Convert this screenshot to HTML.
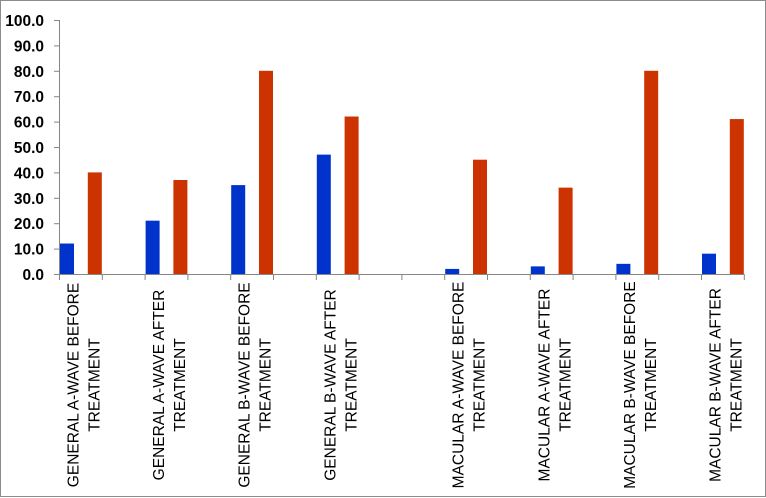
<!DOCTYPE html>
<html><head><style>body{margin:0;background:#fff}svg{display:block}</style></head><body>
<svg width="766" height="498" xmlns="http://www.w3.org/2000/svg" font-family="Liberation Sans, Arial, sans-serif">
<rect x="0.5" y="0.5" width="765" height="496" fill="#fff" stroke="#8c8c8c"/>
<g font-size="15.5" font-weight="bold" text-anchor="end" fill="#000">
<text x="44" y="280">0.0</text><text x="44" y="254.6">10.0</text><text x="44" y="229.2">20.0</text><text x="44" y="203.8">30.0</text><text x="44" y="178.4">40.0</text><text x="44" y="153">50.0</text><text x="44" y="127.6">60.0</text><text x="44" y="102.2">70.0</text><text x="44" y="76.8">80.0</text><text x="44" y="51.4">90.0</text><text x="44" y="26">100.0</text>
</g>
<g stroke="#868686" stroke-width="1">
<line x1="59.5" y1="20" x2="59.5" y2="274"/>
<line x1="54" y1="274.5" x2="744" y2="274.5"/>
<line x1="54" y1="20.5" x2="59" y2="20.5"/><line x1="54" y1="45.9" x2="59" y2="45.9"/><line x1="54" y1="71.3" x2="59" y2="71.3"/><line x1="54" y1="96.7" x2="59" y2="96.7"/><line x1="54" y1="122.1" x2="59" y2="122.1"/><line x1="54" y1="147.5" x2="59" y2="147.5"/><line x1="54" y1="172.9" x2="59" y2="172.9"/><line x1="54" y1="198.3" x2="59" y2="198.3"/><line x1="54" y1="223.7" x2="59" y2="223.7"/><line x1="54" y1="249.1" x2="59" y2="249.1"/>
</g>
<g id="chart"></g>
<script>
var g=document.getElementById('chart'),ns='http://www.w3.org/2000/svg';
function el(t,a,txt){var e=document.createElementNS(ns,t);for(var k in a)e.setAttribute(k,a[k]);if(txt)e.textContent=txt;g.appendChild(e);return e;}
var step=42.8,x0=59.5,base=274,s=2.54;
for(var k=0;k<=16;k++){var x=x0+k*step;el('line',{x1:x,y1:274,x2:x,y2:280,stroke:'#868686'});}
var pos=[0,2,4,6,9,11,13,15];
var blue=[12,21,35,47,2,3,4,8],red=[40,37,80,62,45,34,80,61];
var l1=['GENERAL A-WAVE BEFORE','GENERAL A-WAVE AFTER','GENERAL B-WAVE BEFORE','GENERAL B-WAVE AFTER','MACULAR A-WAVE BEFORE','MACULAR A-WAVE AFTER','MACULAR B-WAVE BEFORE','MACULAR B-WAVE AFTER'];
for(var i=0;i<8;i++){var t=x0+pos[i]*step;
el('rect',{x:t+0.5,y:base-blue[i]*s,width:14,height:blue[i]*s,fill:'#0033cc'});
el('rect',{x:t+step-14.5,y:base-red[i]*s,width:14,height:red[i]*s,fill:'#cc3300'});
var cy=385;
el('text',{x:0,y:0,'font-size':15.5,'text-anchor':'middle',transform:'translate('+(t+19)+','+cy+') rotate(-90)'},l1[i]);
el('text',{x:0,y:0,'font-size':15.5,'text-anchor':'middle',transform:'translate('+(t+40)+','+cy+') rotate(-90)'},'TREATMENT');
}
</script>
</svg>
</body></html>
